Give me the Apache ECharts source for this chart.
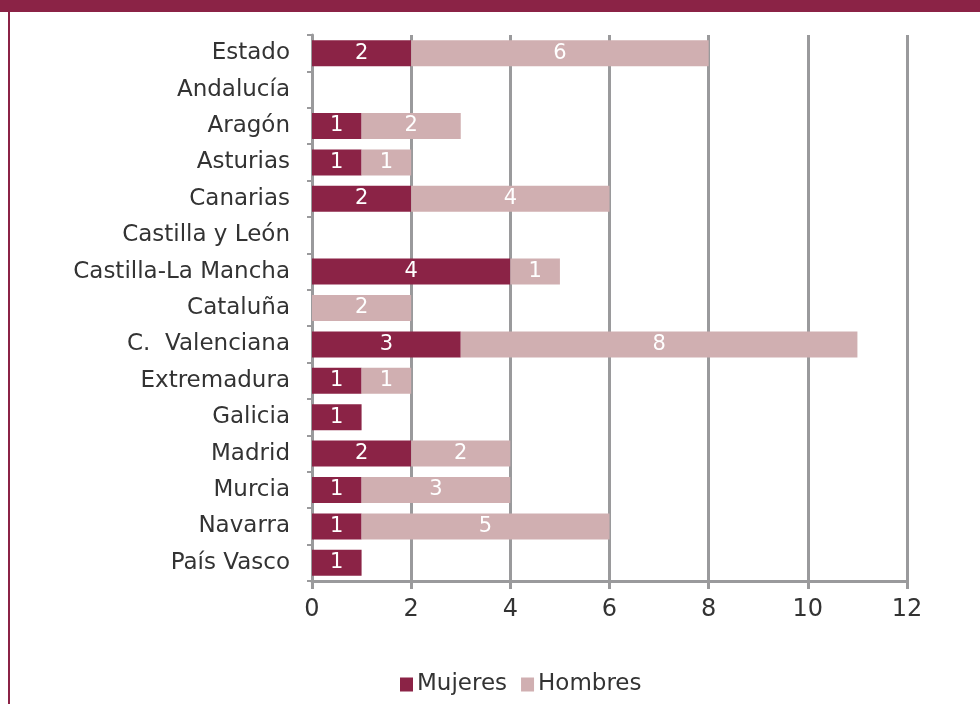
<!DOCTYPE html>
<html lang="es">
<head>
    <meta charset="UTF-8">
    <title>Mujeres y Hombres por comunidad</title>
    <script src="https://cdn.jsdelivr.net/npm/echarts@6/dist/echarts.min.js"></script>
    <style>
        body { margin: 0; background: #fff; }
    </style>
</head>
<body>
<div id="main" style="width:980px;height:704px;"></div>
<script>
    // datos
    var regiones = ['Estado', 'Andalucía', 'Aragón', 'Asturias', 'Canarias', 'Castilla y León',
        'Castilla-La Mancha', 'Cataluña', 'C.  Valenciana', 'Extremadura', 'Galicia', 'Madrid',
        'Murcia', 'Navarra', 'País Vasco'];
    var mujeres = [2, 0, 1, 1, 2, 0, 4, 0, 3, 1, 1, 2, 1, 1, 1];
    var hombres = [6, 0, 2, 1, 4, 0, 1, 2, 8, 1, 0, 2, 3, 5, 0];

    var granate = '#8B2346';
    var rosa = '#D0AFB1';
    var gris = '#9a9a9c';

    var myChart = echarts.init(document.getElementById('main'));

    // no se pintan las etiquetas de valor 0
    function etiqueta(p) {
        return p.value ? String(p.value) : '';
    }

    myChart.setOption({
        animation: false,
        textStyle: {fontFamily: 'DejaVu Sans'},
        graphic: [
            {type: 'rect', shape: {x: 0, y: 0, width: 980, height: 12}, style: {fill: granate}},
            {type: 'rect', shape: {x: 8, y: 12, width: 2, height: 692}, style: {fill: granate}}
        ],
        grid: {left: 312, right: 73, top: 35, bottom: 123},
        legend: {
            top: 668,
            left: 395,
            itemWidth: 13,
            itemHeight: 14,
            itemGap: 14,
            icon: 'rect',
            textStyle: {fontSize: 23, color: '#333', padding: [0, 0, 0, -1]},
            data: ['Mujeres', 'Hombres']
        },
        xAxis: {
            type: 'value',
            min: 0,
            max: 12,
            interval: 2,
            axisLine: {show: true, lineStyle: {color: gris, width: 3}},
            axisTick: {show: true, length: 8, lineStyle: {color: gris, width: 3}},
            axisLabel: {fontSize: 24, color: '#333', margin: 17},
            splitLine: {show: true, lineStyle: {color: gris, width: 3}}
        },
        yAxis: {
            type: 'category',
            inverse: true,
            data: regiones,
            axisLine: {show: true, lineStyle: {color: gris, width: 3}},
            axisTick: {show: true, length: 5, lineStyle: {color: gris, width: 2}},
            axisLabel: {fontSize: 23, color: '#333', margin: 22}
        },
        series: [
            {
                name: 'Mujeres',
                type: 'bar',
                stack: 'total',
                barWidth: 26,
                itemStyle: {color: granate},
                label: {show: true, position: 'inside', color: '#fff', fontSize: 21, formatter: etiqueta},
                data: mujeres
            },
            {
                name: 'Hombres',
                type: 'bar',
                stack: 'total',
                barWidth: 26,
                itemStyle: {color: rosa},
                label: {show: true, position: 'inside', color: '#fff', fontSize: 21, formatter: etiqueta},
                data: hombres
            }
        ]
    });
</script>
</body>
</html>
